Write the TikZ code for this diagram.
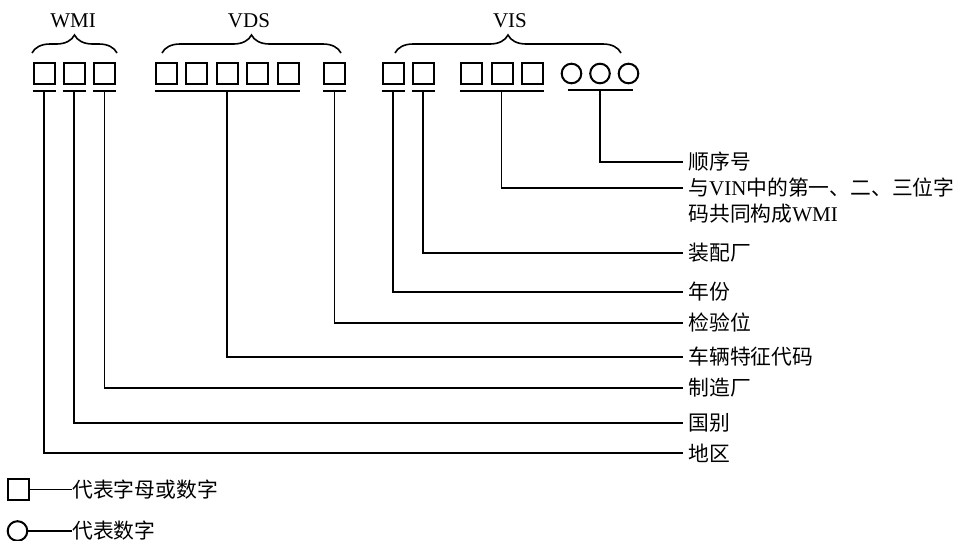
\documentclass[tikz,border=0pt]{standalone}
\usepackage{fontspec}
\setmainfont{Liberation Serif}
\newfontfamily\cjk{Noto Sans CJK SC}
\usetikzlibrary{decorations.pathreplacing,positioning}
\newcommand\lat[1]{{\fontsize{10.5}{12}\rmfamily #1}}

\begin{document}
\begin{tikzpicture}[
  x=0.5pt, y=-0.5pt,
  sq/.style={draw, line width=1pt, minimum size=10.5pt, inner sep=0pt},
  ring/.style={draw, circle, line width=1pt, minimum size=9.8pt, inner sep=0pt},
  bar/.style={line width=1pt},
  link/.style={line width=0.9pt},
  lbl/.style={anchor=west, inner xsep=2.5pt, inner ysep=1pt, font=\fontsize{10.4}{12}\cjk},
  head/.style={anchor=base, inner sep=0pt, font=\fontsize{10.5}{12}\selectfont},
  grp/.style={decorate, decoration={brace, amplitude=9pt}, line width=0.8pt}
]
\useasboundingbox (0,0) rectangle (960,541);

% code positions
\foreach \n/\x in {1/44,2/74,3/104.5,4/166,5/196.5,6/227,7/257.5,8/288,9/334.5,10/393,11/423,12/471,13/502,14/532}
  \node[sq] (s\n) at (\x,73.5) {};
\foreach \n/\x in {1/571.5,2/600,3/628.5}
  \node[ring] (o\n) at (\x,73.5) {};

% groups
\node[head] (wmi) at (73,27) {WMI};
\node[head] (vds) at (249,27) {VDS};
\node[head] (vis) at (510,27) {VIS};
\draw[grp] (32,53) -- (117,53);
\draw[grp] (162,53) -- (341,53);
\draw[grp] (395,53) -- (621,53);

% bars under the codes
\foreach \n in {1,2,3,9,10,11}
  \draw[bar] ([yshift=-3pt]s\n.south west) -- coordinate (b\n) ([yshift=-3pt]s\n.south east);
\draw[bar] ([yshift=-3pt]s4.south west) -- coordinate (b4) ([yshift=-3pt]s8.south east);
\draw[bar] ([yshift=-3pt]s12.south west) -- coordinate (b12) ([yshift=-3pt]s14.south east);
\draw[bar] ([xshift=-2pt,yshift=-3pt]o1.south) -- coordinate (bo) ([xshift=2pt,yshift=-3pt]o3.south);

% meanings
\node[lbl] (l1) at (683,162) {顺序号};
\node[lbl] (l2) at (683,188) {与\lat{VIN}中的第一、二、三位字};
\node[lbl] (l2b) at ([yshift=-13pt]l2.west) {码共同构成\lat{WMI}};
\node[lbl] (l3) at (683,253) {装配厂};
\node[lbl] (l4) at (683,292) {年份};
\node[lbl] (l5) at (683,323) {检验位};
\node[lbl] (l6) at (683,357) {车辆特征代码};
\node[lbl] (l7) at (683,388) {制造厂};
\node[lbl] (l8) at (683,423) {国别};
\node[lbl] (l9) at (683,453) {地区};

\draw[link] (bo) |- (l1.west);
\draw[link] (b12) |- (l2.west);
\draw[link] (b11) |- (l3.west);
\draw[link] (b10) |- (l4.west);
\draw[link] (b9) |- (l5.west);
\draw[link] (b4) |- (l6.west);
\draw[link] (b3) |- (l7.west);
\draw[link] (b2) |- (l8.west);
\draw[link] (b1) |- (l9.west);

% legend
\node[sq] (k1) at (18.5,489.5) {};
\node[lbl, inner xsep=0pt] (k1t) at (72,489.5) {代表字母或数字};
\draw[link] (k1.east) -- (k1t.west);
\node[ring] (k2) at (17.5,531) {};
\node[lbl, inner xsep=0pt] (k2t) at (72,531) {代表数字};
\draw[link] (k2.east) -- (k2t.west);
\end{tikzpicture}
\end{document}
